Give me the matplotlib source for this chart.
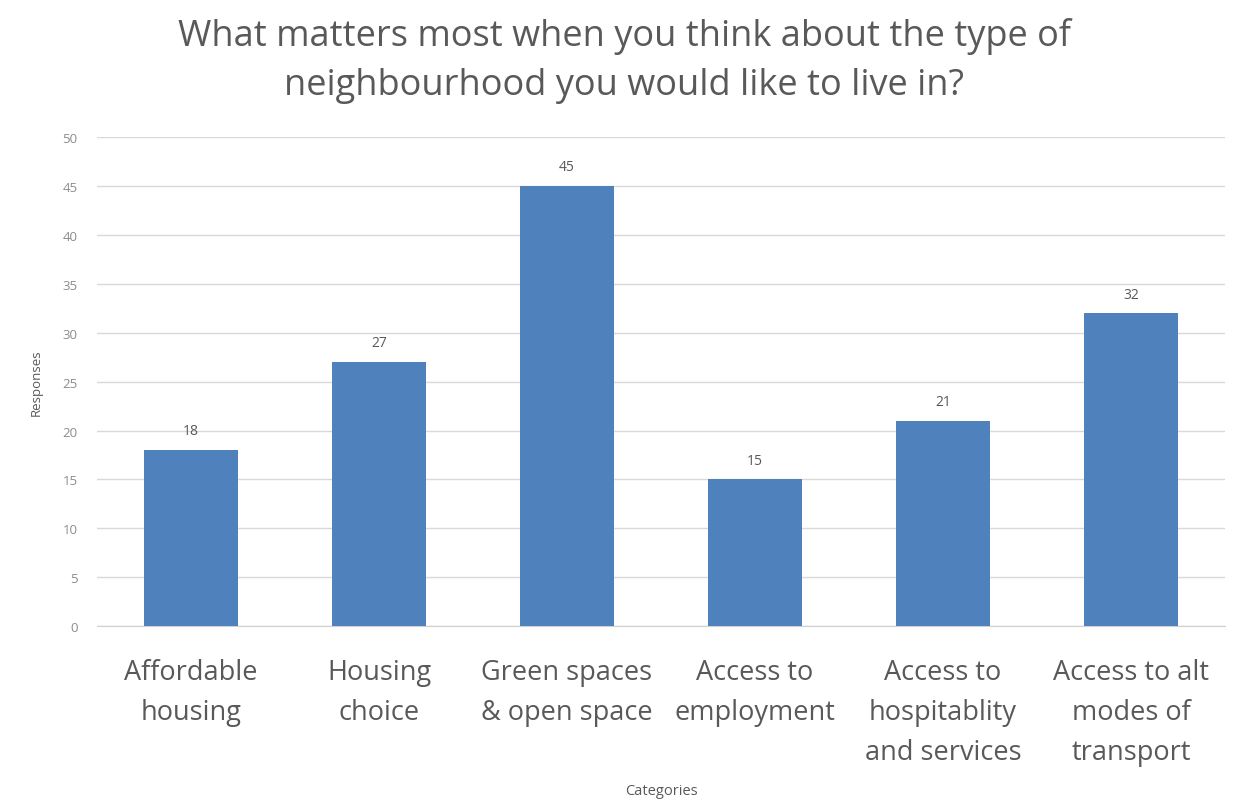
import matplotlib.pyplot as plt
import numpy as np

categories = ["Affordable\nhousing", "Housing\nchoice", "Green spaces\n& open space",
              "Access to\nemployment", "Access to\nhospitablity\nand services",
              "Access to alt\nmodes of\ntransport"]
responses = [18, 27, 45, 15, 21, 32]
yticks = list(range(0, 51, 5))

plt.rcParams['font.family'] = ['Open Sans', 'DejaVu Sans']
grey = '#595959'

fig = plt.figure(figsize=(12.49, 8.04), dpi=100)
ax = fig.add_axes([0.0777, 0.220, 0.903, 0.608])

x = np.arange(len(categories))
bars = ax.bar(x, responses, width=0.5, color='#4F81BD', zorder=3)
for rect, v in zip(bars, responses):
    ax.text(rect.get_x() + rect.get_width() / 2, v + 1.2, str(v),
            ha='center', va='bottom', fontsize=10, color=grey)

ax.set_xlim(-0.5, len(categories) - 0.5)
ax.set_ylim(0, 50)
ax.set_yticks(yticks)
ax.set_yticklabels([str(t) for t in yticks], fontsize=9.5, color='#8c8c8c')
ax.set_xticks(x)
ax.set_xticklabels(categories, fontsize=19.5, color=grey, linespacing=1.58, va='top')
ax.tick_params(axis='both', length=0)
ax.tick_params(axis='x', pad=23)
ax.tick_params(axis='y', pad=14)

ax.grid(axis='y', color='#d9d9d9', linewidth=1, zorder=0)
for side in ['top', 'right', 'left']:
    ax.spines[side].set_visible(False)
ax.spines['bottom'].set_color('#d0d0d0')

ax.set_ylabel("Responses", fontsize=9.5, color=grey, labelpad=14)
ax.set_xlabel("Categories", fontsize=10.5, color=grey, labelpad=12)

fig.suptitle("What matters most when you think about the type of\nneighbourhood you would like to live in?",
             fontsize=26, color=grey, y=0.977, linespacing=1.45)

fig.savefig("out.png", dpi=100, facecolor='white')
